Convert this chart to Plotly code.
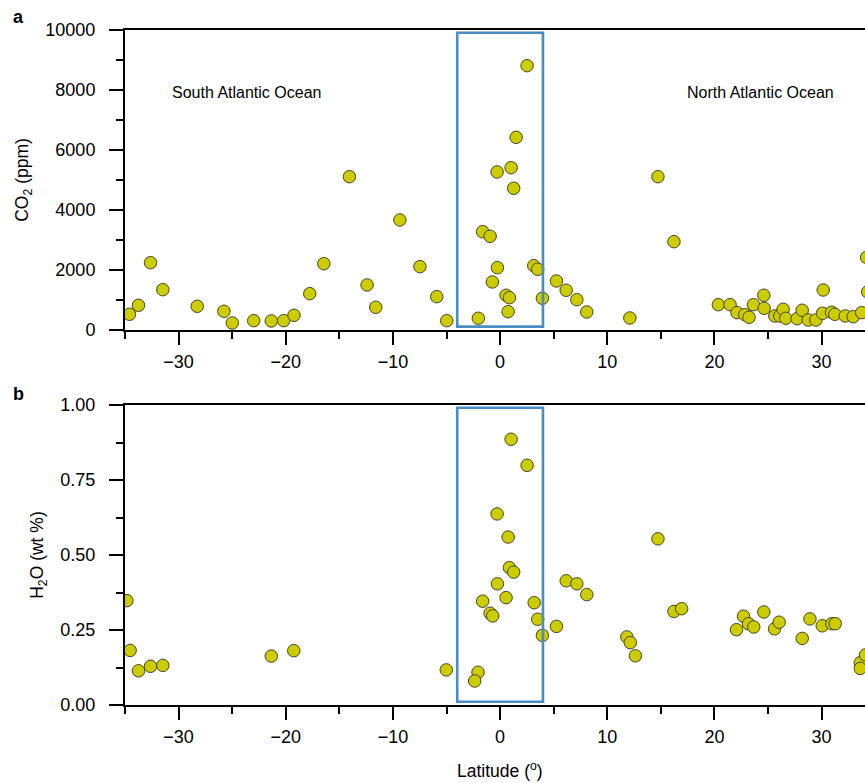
import plotly.graph_objects as go
from plotly.subplots import make_subplots

# Panel a: CO2 content of melt inclusions versus latitude
co2_lat = [-34.58, -33.74, -32.62, -31.47, -28.26, -25.77, -24.99, -22.99, -21.35, -20.19,
           -19.23, -17.76, -16.45, -14.06, -12.41, -11.60, -9.35, -7.48, -5.91, -4.98,
           -2.03, -1.63, -0.93, -0.72, -0.28, -0.25, 0.56, 0.87, 0.75, 1.03,
           1.27, 1.50, 2.52, 3.14, 3.51, 3.95, 5.26, 6.17, 7.16, 8.09,
           12.11, 14.73, 16.22, 20.37, 21.46, 22.11, 22.83, 23.23, 23.64, 24.61,
           24.64, 25.64, 26.10, 26.41, 26.66, 27.72, 28.19, 28.75, 29.47, 30.15,
           30.09, 30.93, 31.24, 32.21, 32.95, 33.74, 34.20, 34.30]
co2_ppm = [523, 823, 2243, 1343, 790, 623, 233, 310, 300, 310,
           490, 1210, 2210, 5110, 1500, 757, 3667, 2110, 1110, 310,
           390, 3277, 3123, 1600, 5267, 2077, 1157, 1077, 610, 5410,
           4723, 6423, 8810, 2143, 2023, 1057, 1633, 1323, 1010, 600,
           400, 5110, 2943, 843, 843, 577, 510, 423, 843, 1157,
           723, 467, 467, 690, 390, 377, 657, 333, 333, 1333,
           557, 590, 523, 467, 443, 577, 2420, 1270]

# Panel b: H2O content versus latitude
h2o_lat = [-34.83, -34.52, -33.74, -32.62, -31.47, -21.35, -19.25, -5.02, -2.06, -2.37,
           -1.63, -0.93, -0.69, -0.28, -0.25, 0.56, 0.75, 0.87, 1.27, 1.03,
           2.52, 3.18, 3.51, 3.95, 5.26, 6.17, 7.16, 8.09, 11.83, 12.15,
           12.62, 14.73, 16.22, 16.94, 22.06, 22.71, 23.18, 23.67, 24.61, 25.61,
           26.04, 28.19, 28.91, 30.06, 30.96, 31.27, 33.61, 33.61, 34.10]
h2o_wt = [0.348, 0.182, 0.114, 0.129, 0.132, 0.163, 0.181, 0.117, 0.109, 0.080,
          0.346, 0.306, 0.297, 0.637, 0.404, 0.358, 0.560, 0.458, 0.443, 0.886,
          0.799, 0.341, 0.286, 0.232, 0.262, 0.414, 0.404, 0.368, 0.227, 0.208,
          0.164, 0.554, 0.312, 0.321, 0.251, 0.296, 0.271, 0.260, 0.310, 0.254,
          0.276, 0.222, 0.287, 0.264, 0.271, 0.271, 0.141, 0.122, 0.167]

# Equatorial band highlighted in both panels
band = (-4, 4)

FONT = "Liberation Sans, Arial, Helvetica, sans-serif"
MARKER = dict(size=12.5, color="#cccc00", line=dict(color="#45452a", width=1))
BLUE = "#4a8cc4"

# plot area in pixels: left 125, right 865, top 30, bottom 705
PL, PR, PT, PB = 125, 865, 30, 705


def px_to_paper(px, py):
    return (px - PL) / (PR - PL), (PB - py) / (PB - PT)


fig = make_subplots(rows=2, cols=1, vertical_spacing=0.1112)

fig.add_trace(go.Scatter(x=co2_lat, y=co2_ppm, mode="markers", marker=MARKER,
                         showlegend=False), row=1, col=1)
fig.add_trace(go.Scatter(x=h2o_lat, y=h2o_wt, mode="markers", marker=MARKER,
                         showlegend=False), row=2, col=1)

xcommon = dict(
    range=[-35, 34.05], tickvals=[-30, -20, -10, 0, 10, 20, 30],
    ticks="outside", ticklen=13, tickwidth=2, tickcolor="black",
    showline=True, linecolor="black", linewidth=2, mirror=True,
    showgrid=False, zeroline=False, ticklabelstandoff=1,
    tickfont=dict(family=FONT, size=18, color="black"),
    minor=dict(dtick=5, tick0=0, ticks="outside", ticklen=7, tickwidth=2,
               tickcolor="black", showgrid=False),
)
fig.update_xaxes(**xcommon, row=1, col=1)
fig.update_xaxes(**xcommon, row=2, col=1)

ycommon = dict(
    ticks="outside", ticklen=14, tickwidth=2, tickcolor="black",
    showline=True, linecolor="black", linewidth=2,
    showgrid=False, zeroline=False, ticklabelstandoff=10,
    tickfont=dict(family=FONT, size=18, color="black"),
    title_font=dict(family=FONT, size=17.5, color="black"),
    title_standoff=12,
)
fig.update_yaxes(**ycommon, range=[0, 10000], dtick=2000, tickformat="d",
                 minor=dict(dtick=1000, ticks="outside", ticklen=7, tickwidth=2,
                            tickcolor="black", showgrid=False),
                 title_text="CO<sub>2</sub> (ppm)", row=1, col=1)
fig.update_yaxes(**ycommon, range=[0, 1], dtick=0.25, tickformat=".2f",
                 minor=dict(dtick=0.125, ticks="outside", ticklen=7, tickwidth=2,
                            tickcolor="black", showgrid=False),
                 title_text="H<sub>2</sub>O (wt %)", row=2, col=1)

for xr, yr in (("x", "y domain"), ("x2", "y2 domain")):
    fig.add_shape(type="rect", xref=xr, yref=yr, x0=band[0], x1=band[1],
                  y0=0.011, y1=0.991, line=dict(color=BLUE, width=2.6),
                  fillcolor="rgba(0,0,0,0)", layer="above")

ax, ay = px_to_paper(18, 17)
bx, by = px_to_paper(18, 394)
_, ty = px_to_paper(0, 770)

annotations = [
    dict(text="South Atlantic Ocean", x=-23.7, y=7920, xref="x", yref="y",
         showarrow=False, font=dict(family=FONT, size=16, color="black")),
    dict(text="North Atlantic Ocean", x=24.3, y=7920, xref="x", yref="y",
         showarrow=False, font=dict(family=FONT, size=16, color="black")),
    dict(text="Latitude (<sup>o</sup>)", x=0, xref="x2", y=ty, yref="paper",
         yanchor="middle", showarrow=False,
         font=dict(family=FONT, size=17.5, color="black")),
    dict(text="<b>a</b>", x=ax, y=ay, xref="paper", yref="paper",
         xanchor="center", yanchor="middle", showarrow=False,
         font=dict(family=FONT, size=18, color="black")),
    dict(text="<b>b</b>", x=bx, y=by, xref="paper", yref="paper",
         xanchor="center", yanchor="middle", showarrow=False,
         font=dict(family=FONT, size=18, color="black")),
]

fig.update_layout(
    width=865, height=783,
    margin=dict(l=PL, r=0, t=PT, b=783 - PB),
    paper_bgcolor="white", plot_bgcolor="white",
    annotations=annotations,
    font=dict(family=FONT, color="black"),
)

fig.write_html("out.html")
